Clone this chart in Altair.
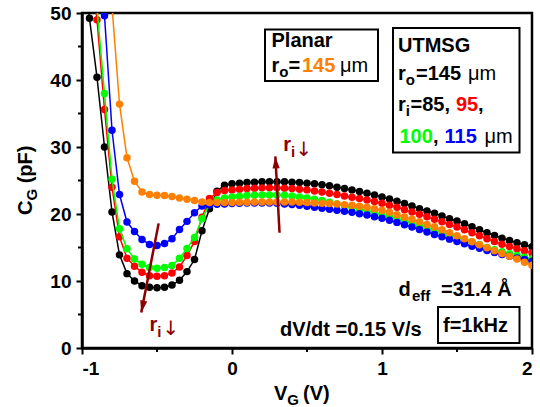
import altair as alt
import pandas as pd

# Gate voltage sweep (V)
V_G = [-1.00, -0.95, -0.90, -0.85, -0.80, -0.75, -0.70, -0.65, -0.60, -0.55,
       -0.50, -0.45, -0.40, -0.35, -0.30, -0.25, -0.20, -0.15, -0.10, -0.05,
       0.00, 0.05, 0.10, 0.15, 0.20, 0.25, 0.30, 0.35, 0.40, 0.45,
       0.50, 0.55, 0.60, 0.65, 0.70, 0.75, 0.80, 0.85, 0.90, 0.95,
       1.00, 1.05, 1.10, 1.15, 1.20, 1.25, 1.30, 1.35, 1.40, 1.45,
       1.50, 1.55, 1.60, 1.65, 1.70, 1.75, 1.80, 1.85, 1.90, 1.95, 2.00]

# Gate capacitance C_G (pF), UTMSG devices with r_i = 85, 95, 100, 115 um
C_85 = [58.0, 49.2, 40.4, 30.0, 20.3, 13.9, 11.1, 10.0, 9.3, 9.05,
        9.0, 9.05, 9.4, 10.1, 11.4, 13.2, 17.5, 20.8, 23.4, 24.3,
        24.5, 24.6, 24.7, 24.75, 24.8, 24.8, 24.8, 24.8, 24.75, 24.7,
        24.6, 24.5, 24.35, 24.2, 24.0, 23.8, 23.6, 23.35, 23.1, 22.85,
        22.55, 22.25, 21.9, 21.55, 21.2, 20.8, 20.45, 20.1, 19.7, 19.3,
        18.95, 18.55, 18.1, 17.65, 17.2, 16.8, 16.4, 16.05, 15.7, 15.4, 15.1]
C_95 = [66.0, 60.0, 49.0, 35.6, 24.0, 16.6, 13.4, 12.2, 11.3, 10.8,
        10.7, 10.8, 11.2, 12.1, 13.8, 15.9, 19.5, 22.3, 23.2, 23.5,
        23.6, 23.7, 23.8, 23.85, 23.9, 23.9, 23.9, 23.85, 23.8, 23.7,
        23.6, 23.45, 23.3, 23.1, 22.9, 22.7, 22.5, 22.3, 22.1, 21.85,
        21.6, 21.3, 21.0, 20.65, 20.3, 19.95, 19.6, 19.2, 18.85, 18.45,
        18.05, 17.65, 17.2, 16.75, 16.3, 15.9, 15.5, 15.15, 14.8, 14.5, 14.2]
C_100 = [70.0, 62.0, 50.8, 38.0, 25.2, 17.8, 14.8, 13.3, 12.5, 12.0,
         11.9, 12.0, 12.3, 13.4, 14.85, 16.5, 19.3, 21.4, 22.1, 22.4,
         22.55, 22.65, 22.75, 22.8, 22.85, 22.85, 22.85, 22.8, 22.7, 22.55,
         22.4, 22.2, 22.0, 21.75, 21.5, 21.25, 21.0, 20.75, 20.5, 20.2,
         19.9, 19.6, 19.3, 19.0, 18.65, 18.3, 17.95, 17.6, 17.25, 16.9,
         16.55, 16.2, 15.85, 15.45, 15.0, 14.65, 14.35, 14.05, 13.8, 13.55, 13.3]
C_115 = [80.0, 72.0, 62.0, 49.6, 32.5, 22.9, 18.8, 17.4, 16.2, 15.45,
         15.3, 15.6, 16.3, 17.7, 18.9, 20.2, 21.2, 21.35, 21.45, 21.5,
         21.55, 21.6, 21.65, 21.65, 21.65, 21.65, 21.6, 21.5, 21.4, 21.3,
         21.15, 21.0, 20.85, 20.7, 20.55, 20.4, 20.25, 20.05, 19.85, 19.6,
         19.35, 19.05, 18.75, 18.4, 18.05, 17.7, 17.3, 16.95, 16.6, 16.25,
         15.9, 15.55, 15.2, 14.9, 14.55, 14.25, 13.95, 13.7, 13.45, 13.2, 12.95]
# Planar reference device, r_o = 145 um
C_PLANAR = [100.0, 88.0, 76.0, 64.0, 51.0, 36.4, 28.4, 24.9, 23.3, 22.9,
            22.8, 22.75, 22.6, 22.4, 22.2, 22.0, 21.8, 21.7, 21.7, 21.7,
            21.7, 21.75, 21.75, 21.8, 21.8, 21.8, 21.8, 21.8, 21.8, 21.75,
            21.7, 21.65, 21.6, 21.55, 21.5, 21.4, 21.3, 21.15, 21.0, 20.8,
            20.55, 20.25, 19.9, 19.55, 19.2, 18.85, 18.45, 18.1, 17.65, 17.2,
            16.75, 16.3, 15.85, 15.4, 14.95, 14.5, 14.1, 13.7, 13.3, 12.8, 12.35]

SERIES = [
    ("UTMSG 85", "#000000", C_85),
    ("UTMSG 95", "#FF0000", C_95),
    ("UTMSG 100", "#00FF00", C_100),
    ("UTMSG 115", "#0000FF", C_115),
    ("Planar 145", "#FF8000", C_PLANAR),
]

X_MAJOR = [-1, 0, 1, 2]
X_MINOR = [-0.5, 0.5, 1.5]
Y_MAJOR = [0, 10, 20, 30, 40, 50]
Y_MINOR = [5, 15, 25, 35, 45]

FONT = "Liberation Sans"
ARROW_FONT = "DejaVu Sans"
WINE = "#8B0000"
ORANGE = "#FF8000"

# plot area placement inside the 540 x 407 page
LEFT, TOP, W, H = 82, 13, 450, 335

xs = alt.Scale(domain=[-1, 2], nice=False, zero=False)
ys = alt.Scale(domain=[0, 50], nice=False, zero=False)

axis_common = dict(
    title=None, grid=False, labelFont=FONT, labelFontSize=19,
    labelFontWeight="bold", labelColor="black", domainColor="black",
    domainWidth=2.5, tickColor="black", tickWidth=2, tickSize=6, zindex=1,
    labelExpr="'' + datum.value",
)
xaxis = alt.Axis(values=X_MAJOR, labelPadding=5, **axis_common)
yaxis = alt.Axis(values=Y_MAJOR, labelPadding=5, **axis_common)

X = lambda f: alt.X(f, type="quantitative", scale=xs, axis=xaxis)
Y = lambda f: alt.Y(f, type="quantitative", scale=ys, axis=yaxis)

layers = []

# capacitance curves: line plus filled circles, one device at a time
for name, color, vals in SERIES:
    d = pd.DataFrame({"V": V_G, "C": vals, "device": name})
    base = alt.Chart(d)
    layers.append(base.mark_line(color=color, strokeWidth=1.5, clip=True)
                  .encode(x=X("V"), y=Y("C")))
    layers.append(base.mark_circle(color=color, size=56, opacity=1, clip=True)
                  .encode(x=X("V"), y=Y("C")))

# minor ticks on both axes
layers.append(alt.Chart(pd.DataFrame({"V": X_MINOR}))
              .mark_rule(color="black", strokeWidth=2, clip=False)
              .encode(x=X("V"), y=alt.value(H), y2=alt.value(H + 4)))
layers.append(alt.Chart(pd.DataFrame({"C": Y_MINOR}))
              .mark_rule(color="black", strokeWidth=2, clip=False)
              .encode(y=Y("C"), x=alt.value(0), x2=alt.value(-4)))

# trend arrows (tail -> tip, in data units)
arrows = pd.DataFrame({
    "V": [0.317, -0.489], "C": [17.2, 18.6],
    "V2": [0.289, -0.605], "C2": [28.6, 5.3],
})
layers.append(alt.Chart(arrows).mark_rule(color=WINE, strokeWidth=2.5)
              .encode(x=X("V"), y=Y("C"), x2="V2", y2="C2"))
layers.append(alt.Chart(arrows.iloc[[0]]).mark_point(
    shape="M0,0L0.6,2L-0.6,2Z", size=144, filled=True, color=WINE,
    opacity=1, angle=356.4).encode(x=X("V2"), y=Y("C2")))
layers.append(alt.Chart(arrows.iloc[[1]]).mark_point(
    shape="M0,0L0.6,-2L-0.6,-2Z", size=144, filled=True, color=WINE,
    opacity=1, angle=12).encode(x=X("V2"), y=Y("C2")))

one_row = alt.Data(values=[{}])

# framed legend / condition boxes (page pixel coordinates)
for x1, y1, x2, y2 in [(265, 29.5, 378, 81), (393, 28, 519.5, 152.5),
                       (438, 307, 519.5, 343)]:
    layers.append(alt.Chart(one_row).mark_rect(
        fill="white", fillOpacity=0, stroke="black", strokeWidth=2)
        .encode(x=alt.value(x1 - LEFT), x2=alt.value(x2 - LEFT),
                y=alt.value(y1 - TOP), y2=alt.value(y2 - TOP)))

# text pieces: (text, left x, baseline y, size, colour, weight, angle, font)
B, N = "bold", "normal"
TEXTS = [
    ("Planar", 271.5, 46.5, 20, "black", B, 0, FONT),
    ("r", 271.5, 71.5, 20, "black", B, 0, FONT),
    ("o", 279.3, 76.5, 15, "black", B, 0, FONT),
    ("=", 288.5, 71.5, 20, "black", B, 0, FONT),
    ("145", 302, 71.5, 20, ORANGE, B, 0, FONT),
    ("μm", 340, 71.5, 20, "black", N, 0, FONT),
    ("UTMSG", 398, 52, 20, "black", B, 0, FONT),
    ("r", 398, 80, 20, "black", B, 0, FONT),
    ("o", 405.8, 85, 15, "black", B, 0, FONT),
    ("=145", 416, 80, 20, "black", B, 0, FONT),
    ("μm", 468, 80, 20, "black", N, 0, FONT),
    ("r", 398, 110.5, 20, "black", B, 0, FONT),
    ("i", 405.8, 115.5, 15, "black", B, 0, FONT),
    ("=85,", 410.5, 110.5, 20, "black", B, 0, FONT),
    ("95", 456, 110.5, 20, "#FF0000", B, 0, FONT),
    (",", 478, 110.5, 20, "black", B, 0, FONT),
    ("100", 399.5, 143, 20, "#00FF00", B, 0, FONT),
    (",", 433, 143, 20, "black", B, 0, FONT),
    ("115", 444.5, 143, 20, "#0000FF", B, 0, FONT),
    ("μm", 484.5, 143, 20, "black", N, 0, FONT),
    ("r", 283.3, 151, 20, WINE, B, 0, FONT),
    ("i", 291, 157, 15, WINE, B, 0, FONT),
    ("↓", 295.5, 156, 20, WINE, N, 0, ARROW_FONT),
    ("r", 149.5, 330.5, 20, WINE, B, 0, FONT),
    ("i", 157.3, 337, 15, WINE, B, 0, FONT),
    ("↓", 162.5, 335, 20, WINE, N, 0, ARROW_FONT),
    ("d", 398.6, 296, 20, "black", B, 0, FONT),
    ("eff", 412, 301, 15, "black", B, 0, FONT),
    ("=31.4 Å", 441, 296, 20, "black", B, 0, FONT),
    ("dV/dt =0.15 V/s", 280, 335.5, 20, "black", B, 0, FONT),
    ("f=1kHz", 443, 332, 20, "black", B, 0, FONT),
    ("V", 274, 400, 20, "black", B, 0, FONT),
    ("G", 287.3, 405, 15, "black", B, 0, FONT),
    ("(V)", 303, 400, 20, "black", B, 0, FONT),
    ("C", 32, 215, 20, "black", B, 270, FONT),
    ("G", 37, 200.6, 15, "black", B, 270, FONT),
    ("(pF)", 32, 183.3, 20, "black", B, 270, FONT),
]
for t, px, py, fs, col, wt, ang, fnt in TEXTS:
    layers.append(alt.Chart(one_row).mark_text(
        text=t, font=fnt, fontSize=fs, fontWeight=wt, color=col,
        align="left", baseline="alphabetic", angle=ang)
        .encode(x=alt.value(px - LEFT), y=alt.value(py - TOP)))

chart = (
    alt.layer(*layers)
    .properties(
        width=W, height=H,
        padding={"left": LEFT, "top": TOP, "right": 540 - LEFT - W,
                 "bottom": 407 - TOP - H},
        autosize=alt.AutoSizeParams(type="none"),
        background="white",
    )
    .configure_view(stroke="black", strokeWidth=2.5)
)

chart.save("out.html", embed_options={"renderer": "svg", "actions": False})
